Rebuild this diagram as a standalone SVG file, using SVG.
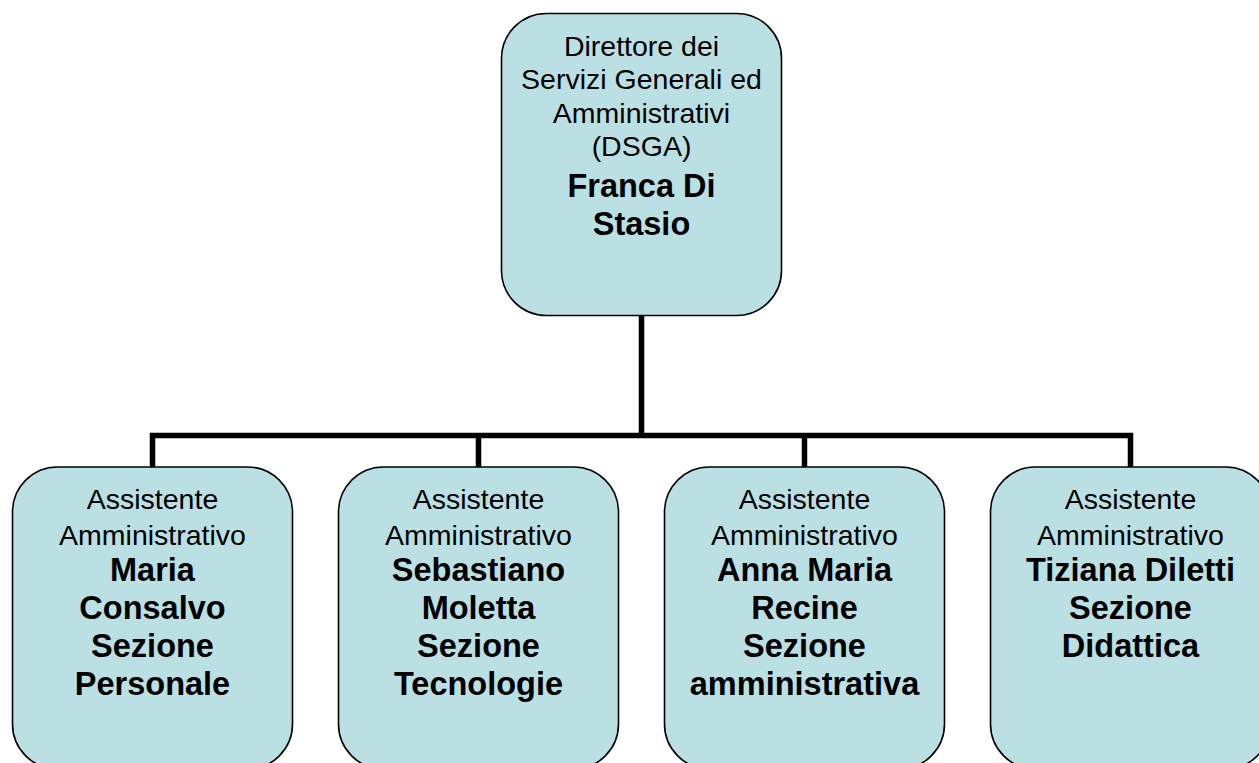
<svg xmlns="http://www.w3.org/2000/svg" width="1259" height="763" viewBox="0 0 1259 763">
<style>
.box{fill:#BBE0E3;stroke:#000;stroke-width:1.6}
.conn{fill:none;stroke:#000;stroke-width:5.5;stroke-linecap:butt;stroke-linejoin:miter}
text{font-family:"Liberation Sans",Arial,sans-serif;fill:#000;text-anchor:middle}
.n{font-size:28.5px}
.b{font-size:32.5px;font-weight:bold}
</style>
<rect width="1259" height="763" fill="#fff"/>
<g id="connectors">
<path class="conn" d="M641.5 315 V435.5 M152.5 467 V435.5 H1130.5 V467 M478.5 435.5 V467 M804.5 435.5 V467"/>
</g>
<g id="dsga">
<rect class="box" x="501.5" y="13.5" width="280" height="302" rx="45" ry="45"/>
<text class="n" x="641.5" y="56">Direttore dei</text>
<text class="n" x="641.5" y="89.3">Servizi Generali ed</text>
<text class="n" x="641.5" y="122.7">Amministrativi</text>
<text class="n" x="641.5" y="155.5">(DSGA)</text>
<text class="b" x="641.5" y="196.5">Franca Di</text>
<text class="b" x="641.5" y="235">Stasio</text>
</g>
<g id="consalvo">
<rect class="box" x="12.5" y="467" width="280" height="302" rx="45" ry="45"/>
<text class="n" x="152.5" y="509">Assistente</text>
<text class="n" x="152.5" y="545">Amministrativo</text>
<text class="b" x="152.5" y="581">Maria</text>
<text class="b" x="152.5" y="619">Consalvo</text>
<text class="b" x="152.5" y="657">Sezione</text>
<text class="b" x="152.5" y="695">Personale</text>
</g>
<g id="moletta">
<rect class="box" x="338.5" y="467" width="280" height="302" rx="45" ry="45"/>
<text class="n" x="478.5" y="509">Assistente</text>
<text class="n" x="478.5" y="545">Amministrativo</text>
<text class="b" x="478.5" y="581">Sebastiano</text>
<text class="b" x="478.5" y="619">Moletta</text>
<text class="b" x="478.5" y="657">Sezione</text>
<text class="b" x="478.5" y="695">Tecnologie</text>
</g>
<g id="recine">
<rect class="box" x="664.5" y="467" width="280" height="302" rx="45" ry="45"/>
<text class="n" x="804.5" y="509">Assistente</text>
<text class="n" x="804.5" y="545">Amministrativo</text>
<text class="b" x="804.5" y="581">Anna Maria</text>
<text class="b" x="804.5" y="619">Recine</text>
<text class="b" x="804.5" y="657">Sezione</text>
<text class="b" x="804.5" y="695">amministrativa</text>
</g>
<g id="diletti">
<rect class="box" x="990.5" y="467" width="280" height="302" rx="45" ry="45"/>
<text class="n" x="1130.5" y="509">Assistente</text>
<text class="n" x="1130.5" y="545">Amministrativo</text>
<text class="b" x="1130.5" y="581">Tiziana Diletti</text>
<text class="b" x="1130.5" y="619">Sezione</text>
<text class="b" x="1130.5" y="657">Didattica</text>
</g>
</svg>
